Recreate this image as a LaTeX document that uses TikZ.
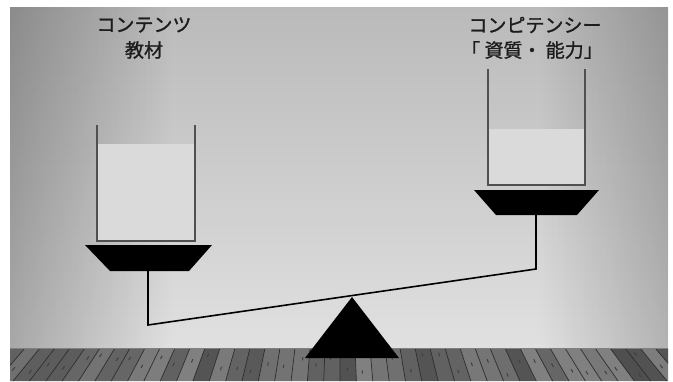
\documentclass[tikz,border=0pt]{standalone}
\usepackage{fontspec}
\newfontfamily\jp[FakeBold=1.2]{Noto Sans CJK JP}
\usetikzlibrary{fadings}
\definecolor{walltop}{RGB}{186,186,186}
\definecolor{wallbottom}{RGB}{224,224,224}
\definecolor{cupline}{RGB}{80,80,80}
\definecolor{cupfill}{RGB}{218,218,218}
\definecolor{ink}{RGB}{28,28,28}

\begin{document}
\begin{tikzpicture}[x=1pt,y=-1pt,
  label/.style={font=\jp\fontsize{19}{22}\selectfont, text=ink, inner sep=0pt},
  cup/.style={cupline, line width=1.3pt},
  beam/.style={black, line width=1.6pt}]
\useasboundingbox (0,0) rectangle (673,381);
\fill [white] (0,0) rectangle (673,381);
% wall
\shade [top color=walltop, bottom color=wallbottom] (10,7) rectangle (668,348);
\fill [black, path fading=east, opacity=0.25] (10,7) rectangle (170,348);
\fill [black, path fading=west, opacity=0.2] (540,7) rectangle (668,348);
% floor boards
\fill [black!62] (10,348) rectangle (668,381);
\begin{scope}
\clip (10,348) rectangle (668,381);
\pgfmathsetseed{11}
\foreach \i in {-3,...,45} {
  \pgfmathsetmacro\xa{10+15*\i}
  \pgfmathsetmacro\xb{\xa+15}
  \pgfmathsetmacro\xc{339+(\xb-339)*1.09}
  \pgfmathsetmacro\xd{339+(\xa-339)*1.09}
  \pgfmathsetmacro\g{int(50+20*rnd)}
  \fill [black!\g] (\xa,348) -- (\xb,348) -- (\xc,381) -- (\xd,381) -- cycle;
  \draw [black!82, line width=0.7pt] (\xa,348) -- (\xd,381);
  \pgfmathsetmacro\ky{352+22*rnd}
  \pgfmathsetmacro\kx{\xa+5+5*rnd+(\ky-348)/33*(\xd-\xa)}
  \draw [black!75, line width=1pt] (\kx,\ky) -- ++(0.1*\xd-0.1*\xa,3.3);
}
\end{scope}
\draw [black!50, line width=0.8pt] (10,348) -- (668,348);
% left cup and pan
\fill [cupfill] (97,144) rectangle (195,241);
\draw [cup] (97,125) -- (97,241) -- (195,241) -- (195,125);
\fill (85,245) -- (212,245) -- (189,271) -- (110,271) -- cycle;
% right cup and pan
\fill [cupfill] (488,129) rectangle (585,185);
\draw [cup] (488,69) -- (488,185) -- (585,185) -- (585,69);
\fill (474,190) -- (599,190) -- (577,215) -- (496,215) -- cycle;
% beam
\coordinate (lpan) at (148,271);
\coordinate (lend) at (148,325);
\coordinate (rend) at (536,269);
\coordinate (rpan) at (536,215);
\draw [beam] (lpan) -- (lend) -- (rend) -- (rpan);
\fill (305,358) -- (399,358) -- (352,297) -- cycle;
% labels
\node [label] (contents) at (144,25) {コンテンツ};
\node [label] (kyozai) at (144,50) {教材};
\node [label] (competency) at (535,25) {コンピテンシー};
\node [label] (shishitsu) at (532,50) {「 資質・ 能力」};
\end{tikzpicture}
\end{document}
